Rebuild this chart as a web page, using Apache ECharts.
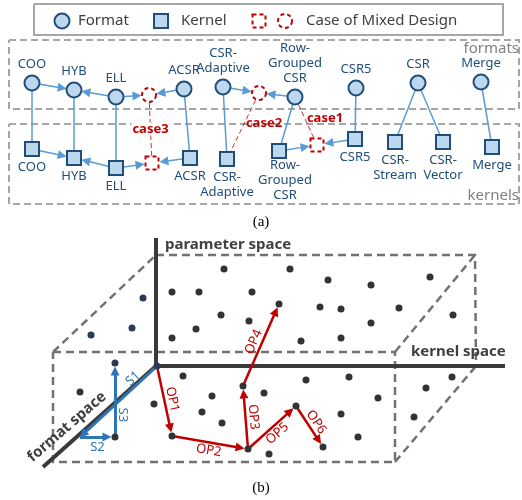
<!DOCTYPE html>
<html>
<head>
<meta charset="utf-8">
<script src="https://cdn.jsdelivr.net/npm/echarts@6/dist/echarts.min.js"></script>
<style>
  html, body { margin: 0; padding: 0; background: #fff; }
  #main { width: 522px; height: 500px; }
</style>
</head>
<body>
<div id="main"></div>
<script>
// ---- (a) formats and kernels ----
const formatNames = ['COO', 'HYB', 'ELL', 'ACSR', 'CSR-\nAdaptive', 'Row-\nGrouped\nCSR', 'CSR5', 'CSR', 'Merge'];
const formatX = [32, 74, 116, 184, 223, 295, 356, 418, 481];
const formatY = [83, 90, 97, 89, 87, 97, 88, 83, 82];

const kernelNames = ['COO', 'HYB', 'ELL', 'ACSR', 'CSR-\nAdaptive', 'Row-\nGrouped\nCSR', 'CSR5', 'CSR-\nStream', 'CSR-\nVector', 'Merge'];
const kernelX = [32, 74, 116, 190, 227, 279, 355, 395, 443, 492];
const kernelY = [149, 158, 168, 158, 159, 151, 139, 142, 142, 147];

// mixed designs: dashed circle (format side) and dashed square (kernel side)
const mixedFormatX = [149, 259];
const mixedFormatY = [95, 93];
const mixedKernelX = [152, 317];
const mixedKernelY = [163, 145];

const arrowEdges = [['F0', 'F1'], ['F2', 'F1'], ['F2', 'MF0'], ['F3', 'MF0'], ['F4', 'MF1'], ['F5', 'MF1'],
  ['K0', 'K1'], ['K2', 'K1'], ['K2', 'MK0'], ['K3', 'MK0'], ['K5', 'MK1'], ['K6', 'MK1']];
const plainEdges = [['F0', 'K0'], ['F1', 'K1'], ['F2', 'K2'], ['F3', 'K3'], ['F4', 'K4'], ['F5', 'K5'],
  ['F6', 'K6'], ['F7', 'K7'], ['F7', 'K8'], ['F8', 'K9']];
const caseEdges = [['MF0', 'MK0'], ['MF1', 'K4'], ['F5', 'MK1']];
const caseNames = ['case3', 'case2', 'case1'];

const legendNames = ['Format', 'Kernel', 'Case of Mixed Design'];

// ---- (b) search space ----
const dotX = [224, 290, 328, 430, 371, 172, 199, 252, 221, 249, 279, 320, 341, 399, 453, 371, 196, 172, 301, 341,
  183, 349, 306, 243, 264, 212, 378, 154, 296, 202, 341, 222, 172, 358, 323, 248, 269, 80, 452, 426, 414, 115];
const dotY = [269, 269, 280, 277, 285, 292, 292, 292, 315, 321, 304, 307, 309, 308, 315, 323, 329, 338, 341, 338,
  376, 377, 380, 386, 393, 396, 398, 404, 406, 412, 414, 423, 436, 437, 447, 449, 454, 392, 377, 388, 417, 437];
const navyX = [143, 132, 91, 115, 157];
const navyY = [298, 328, 335, 363, 366];

const stepX = [157, 80, 115, 115];
const stepY = [366, 437, 437, 363];
const stepNames = ['S1', 'S2', 'S3'];

const opX = [157, 172, 248, 243, 279, 296, 323];
const opY = [366, 436, 449, 386, 304, 406, 447];
const opEdges = [[0, 1], [1, 2], [2, 3], [3, 4], [2, 5], [5, 6]];
const opNames = ['OP1', 'OP2', 'OP3', 'OP4', 'OP5', 'OP6'];

// outlines
const legendBox = [[34, 4], [503, 4], [503, 35], [34, 35], [34, 4]];
const formatBox = [[9, 40], [519, 40], [519, 109], [9, 109], [9, 40]];
const kernelBox = [[9, 124], [519, 124], [519, 204], [9, 204], [9, 124]];
const cubeFront = [[53, 352], [395, 352], [395, 462], [53, 462], [53, 352]];
const cubeBack = [[156, 255], [475, 255], [476, 366]];
const cubeEdges = [[[53, 352], [156, 255]], [[395, 352], [475, 255]], [[395, 462], [476, 366]]];
const spaceAxes = [[[156, 238], [156, 366]], [[156, 366], [505, 366]], [[156, 366], [43, 467]]];

const BLUE = '#1f4e79', FILL = '#bdd7ee', EDGE = '#5b9bd5', RED = '#c00000', GRAY = '#a6a6a6';
const FONT = '"Noto Sans", "Open Sans", sans-serif';

const pos = {};
formatX.forEach((x, i) => pos['F' + i] = [x, formatY[i]]);
kernelX.forEach((x, i) => pos['K' + i] = [x, kernelY[i]]);
mixedFormatX.forEach((x, i) => pos['MF' + i] = [x, mixedFormatY[i]]);
mixedKernelX.forEach((x, i) => pos['MK' + i] = [x, mixedKernelY[i]]);

// shorten a segment so it starts/ends at the edge of the marks
function trim(a, b, ra, rb) {
  const dx = b[0] - a[0], dy = b[1] - a[1], L = Math.hypot(dx, dy);
  return [[a[0] + dx * ra / L, a[1] + dy * ra / L], [b[0] - dx * rb / L, b[1] - dy * rb / L]];
}

// free text
const texts = [];
legendNames.forEach((t, i) => texts.push({ x: [78, 181, 306][i], y: 21, text: t, font: '15px ' + FONT, color: '#404040', align: 'left' }));
texts.push({ x: 519, y: 49, text: 'formats', font: '15px ' + FONT, color: '#808080', align: 'right' });
texts.push({ x: 519, y: 196, text: 'kernels', font: '15px ' + FONT, color: '#808080', align: 'right' });
texts.push({ x: 261, y: 222, text: '(a)', font: '15px "Liberation Serif", serif', color: '#000' });
texts.push({ x: 261, y: 488, text: '(b)', font: '15px "Liberation Serif", serif', color: '#000' });
const caseShift = [[0, 0], [21, -3], [19, -3]];
caseEdges.forEach((e, i) => {
  const a = pos[e[0]], b = pos[e[1]];
  texts.push({ x: (a[0] + b[0]) / 2 + caseShift[i][0], y: (a[1] + b[1]) / 2 + caseShift[i][1], text: caseNames[i],
    font: 'bold 13px ' + FONT, color: RED, bg: i === 0 ? '#fff' : null });
});
texts.push({ x: 165, y: 245, text: 'parameter space', font: 'bold 15px ' + FONT, color: '#404040', align: 'left' });
texts.push({ x: 411, y: 352, text: 'kernel space', font: 'bold 15px ' + FONT, color: '#404040', align: 'left' });
texts.push({ x: 67, y: 427, text: 'format space', font: 'bold 15px ' + FONT, color: '#404040', rot: 41 });

function pathLabel(a, b, t, side, dist, name, color) {
  const dx = b[0] - a[0], dy = b[1] - a[1], L = Math.hypot(dx, dy);
  let ang = Math.atan2(dy, dx) * 180 / Math.PI;
  if (ang > 90) ang -= 180;
  if (ang <= -90) ang += 180;
  const nx = -dy / L, ny = dx / L;
  texts.push({ x: a[0] + dx * t + nx * side * dist, y: a[1] + dy * t + ny * side * dist, text: name,
    font: '13px ' + FONT, color: color, rot: -ang });
}
const opSide = [-1, 1, 1, -1, 1, -1];
opEdges.forEach((e, i) => pathLabel([opX[e[0]], opY[e[0]]], [opX[e[1]], opY[e[1]]], 0.5, opSide[i], 8, opNames[i], RED));
const stepT = [0.25, 0.5, 0.3], stepDist = [7, 10, 8];
stepNames.forEach((n, i) => pathLabel([stepX[i], stepY[i]], [stepX[i + 1], stepY[i + 1]], stepT[i], 1, stepDist[i], n, '#2e75b6'));

const chart = echarts.init(document.getElementById('main'));

const nodeLabel = (position) => ({ show: true, position: position, distance: 3, color: BLUE, fontSize: 13, lineHeight: 15, fontFamily: FONT, formatter: p => p.data.name });

chart.setOption({
  animation: false,
  grid: { left: 0, right: 0, top: 0, bottom: 0 },
  xAxis: { type: 'value', min: 0, max: 522, show: false },
  yAxis: { type: 'value', min: 0, max: 500, inverse: true, show: false },
  series: [
    { type: 'lines', coordinateSystem: 'cartesian2d', polyline: true, silent: true, z: 1,
      lineStyle: { color: GRAY, width: 2, opacity: 1 },
      data: [{ coords: legendBox }] },
    { type: 'lines', coordinateSystem: 'cartesian2d', polyline: true, silent: true, z: 1,
      lineStyle: { color: GRAY, width: 2, type: [7, 4], opacity: 1 },
      data: [{ coords: formatBox }, { coords: kernelBox }] },
    { type: 'lines', coordinateSystem: 'cartesian2d', silent: true, z: 2,
      lineStyle: { color: EDGE, width: 1.5, opacity: 1 },
      data: plainEdges.map(e => ({ coords: [pos[e[0]], pos[e[1]]] })) },
    { type: 'lines', coordinateSystem: 'cartesian2d', silent: true, z: 2,
      symbol: ['none', 'triangle'], symbolSize: 9,
      lineStyle: { color: EDGE, width: 1.5, opacity: 1 },
      data: arrowEdges.map(e => ({ coords: trim(pos[e[0]], pos[e[1]], 8, 12) })) },
    { type: 'lines', coordinateSystem: 'cartesian2d', silent: true, z: 2,
      lineStyle: { color: RED, width: 1, type: [5, 3], opacity: 0.8 },
      data: caseEdges.map(e => ({ coords: [pos[e[0]], pos[e[1]]] })) },
    { type: 'scatter', z: 5, symbol: 'circle', symbolSize: 15,
      itemStyle: { color: FILL, borderColor: BLUE, borderWidth: 2, opacity: 1 },
      label: nodeLabel('top'),
      data: formatNames.map((n, i) => ({ name: n, value: [formatX[i], formatY[i]] })) },
    { type: 'scatter', z: 5, symbol: 'rect', symbolSize: 14,
      itemStyle: { color: FILL, borderColor: BLUE, borderWidth: 2, opacity: 1 },
      label: nodeLabel('bottom'),
      data: kernelNames.map((n, i) => ({ name: n, value: [kernelX[i], kernelY[i]],
        label: i === 5 ? { offset: [6, -4] } : undefined })) },
    { type: 'scatter', z: 5, symbol: 'circle', symbolSize: 14,
      itemStyle: { color: '#fff', borderColor: RED, borderWidth: 2, borderType: [4, 3], opacity: 1 },
      data: mixedFormatX.map((x, i) => [x, mixedFormatY[i]]).concat([[285, 21]]) },
    { type: 'scatter', z: 5, symbol: 'rect', symbolSize: 13,
      itemStyle: { color: '#fff', borderColor: RED, borderWidth: 2, borderType: [4, 3], opacity: 1 },
      data: mixedKernelX.map((x, i) => [x, mixedKernelY[i]]).concat([[259, 21]]) },
    { type: 'scatter', z: 5, symbol: 'circle', symbolSize: 15,
      itemStyle: { color: FILL, borderColor: BLUE, borderWidth: 2, opacity: 1 },
      data: [[62, 21]] },
    { type: 'scatter', z: 5, symbol: 'rect', symbolSize: 14,
      itemStyle: { color: FILL, borderColor: BLUE, borderWidth: 2, opacity: 1 },
      data: [[161, 21]] },
    // (b)
    { type: 'lines', coordinateSystem: 'cartesian2d', polyline: true, silent: true, z: 1,
      lineStyle: { color: '#767171', width: 2.5, type: [8, 5], opacity: 1 },
      data: [{ coords: cubeFront }, { coords: cubeBack }].concat(cubeEdges.map(c => ({ coords: c }))) },
    { type: 'lines', coordinateSystem: 'cartesian2d', silent: true, z: 2,
      lineStyle: { color: '#3a3a3a', width: 4, opacity: 1 },
      data: spaceAxes.map(c => ({ coords: c })) },
    { type: 'scatter', z: 4, symbolSize: 7, itemStyle: { color: '#333', opacity: 1 },
      data: dotX.map((x, i) => [x, dotY[i]]) },
    { type: 'scatter', z: 4, symbolSize: 7, itemStyle: { color: '#2b3a55', opacity: 1 },
      data: navyX.map((x, i) => [x, navyY[i]]) },
    { type: 'lines', coordinateSystem: 'cartesian2d', silent: true, z: 3,
      symbol: ['none', 'triangle'], symbolSize: 9,
      lineStyle: { color: '#2e75b6', width: 3, opacity: 1 },
      data: stepNames.map((n, i) => ({ coords: trim([stepX[i], stepY[i]], [stepX[i + 1], stepY[i + 1]], 0, i === 0 ? 4 : 8) })) },
    { type: 'lines', coordinateSystem: 'cartesian2d', silent: true, z: 3,
      symbol: ['none', 'triangle'], symbolSize: 9,
      lineStyle: { color: RED, width: 2.5, opacity: 1 },
      data: opEdges.map(e => ({ coords: trim([opX[e[0]], opY[e[0]]], [opX[e[1]], opY[e[1]]], 3, 8) })) },
    { type: 'custom', z: 10, silent: true, clip: false,
      data: texts.map(t => [t.x, t.y]),
      renderItem: (params, api) => {
        const t = texts[params.dataIndex];
        const p = api.coord([api.value(0), api.value(1)]);
        return { type: 'text', x: p[0], y: p[1], rotation: (t.rot || 0) * Math.PI / 180,
          style: { text: t.text, fill: t.color, font: t.font, align: t.align || 'center', verticalAlign: 'middle',
            backgroundColor: t.bg || 'transparent', padding: t.bg ? [0, 1] : 0 } };
      } }
  ]
});
</script>
</body>
</html>
